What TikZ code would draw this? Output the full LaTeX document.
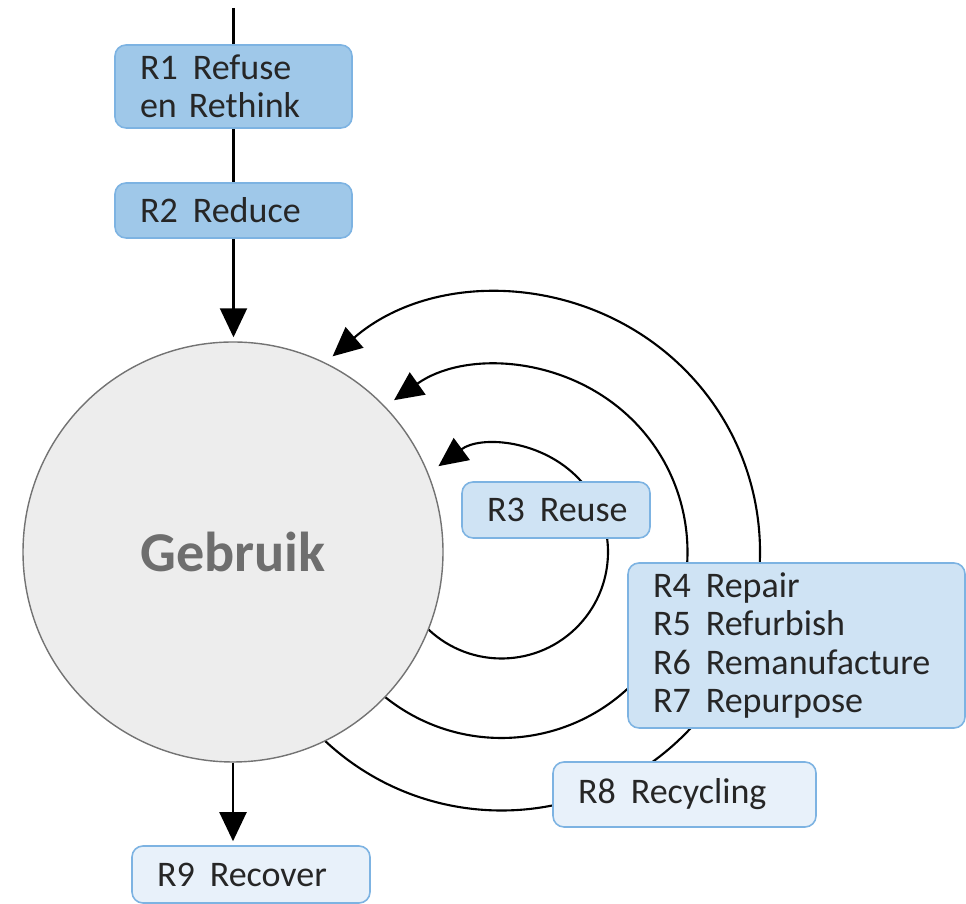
\documentclass[tikz,border=0pt]{standalone}
\usepackage{fontspec}
\setmainfont{Carlito}
\usetikzlibrary{arrows.meta,positioning}

\definecolor{rdark}{HTML}{9FC8E9}
\definecolor{rmid}{HTML}{CFE3F4}
\definecolor{rlight}{HTML}{E8F1FA}
\definecolor{rline}{HTML}{7DB3E2}
\definecolor{usefill}{HTML}{EDEDED}
\definecolor{usetext}{HTML}{6E6E6E}

\newcommand{\rgap}{\nobreak\hspace{0.3cm}\nobreak}

\begin{document}
\begin{tikzpicture}[>={Triangle[length=0.58cm,width=0.54cm]},line width=1.2pt,
  rbox/.style={draw=rline,line width=0.9pt,rounded corners=0.22cm,align=left,
    inner xsep=0.5cm,inner ysep=0pt,text=black!85,font=\fontsize{20.5}{21.8}\selectfont},
  loop/.style={->,line width=1.2pt}]
\useasboundingbox (0,0) rectangle (19.32,18.08);

\coordinate (hub) at (10.03,7.04);
\coordinate (top) at (4.67,17.92);

% loops back to use
\draw[loop] ([shift={(227:5.17)}]hub) arc[start angle=227,end angle=490.8,radius=5.17];
\draw[loop] ([shift={(231.2:3.72)}]hub) arc[start angle=231.2,end angle=485.3,radius=3.72];
\draw[loop] ([shift={(226.6:2.13)}]hub) arc[start angle=226.6,end angle=486.3,radius=2.13];

\node[circle,draw=gray!90!black,fill=usefill,line width=0.8pt,minimum size=8.4cm,
  inner sep=0pt,text=usetext,font=\fontsize{32}{32}\selectfont\bfseries] (use) at (4.66,7.04) {Gebruik};

\node[rbox,fill=rdark,text width=3.74cm,minimum height=1.66cm] (r1) at (4.67,16.35) {R1\rgap Refuse\\en Rethink};
\node[rbox,fill=rdark,text width=3.74cm,minimum height=1.10cm] (r2) at (4.67,13.87) {R2\rgap Reduce};
\node[rbox,fill=rmid,text width=2.76cm,minimum height=1.12cm] (r3) at (11.12,7.88) {R3\rgap Reuse};
\node[rbox,fill=rmid,text width=5.74cm,minimum height=3.30cm] (r47) at (15.93,5.17)
  {R4\rgap Repair\\R5\rgap Refurbish\\R6\rgap Remanufacture\\R7\rgap Repurpose};
\node[rbox,fill=rlight,text width=4.26cm,minimum height=1.30cm] (r8) at (13.69,2.19) {R8\rgap Recycling};
\node[rbox,fill=rlight,text width=3.76cm,minimum height=1.14cm] (r9) at (5.02,0.59) {R9\rgap Recover};

\draw (top) -- (r1);
\draw (r1) -- (r2);
\draw[->,shorten >=0.08cm] (r2.south) -- (r2.south |- use.north);
\draw[->,shorten >=0.08cm] (use.south) -- (use.south |- r9.north);

\end{tikzpicture}
\end{document}
